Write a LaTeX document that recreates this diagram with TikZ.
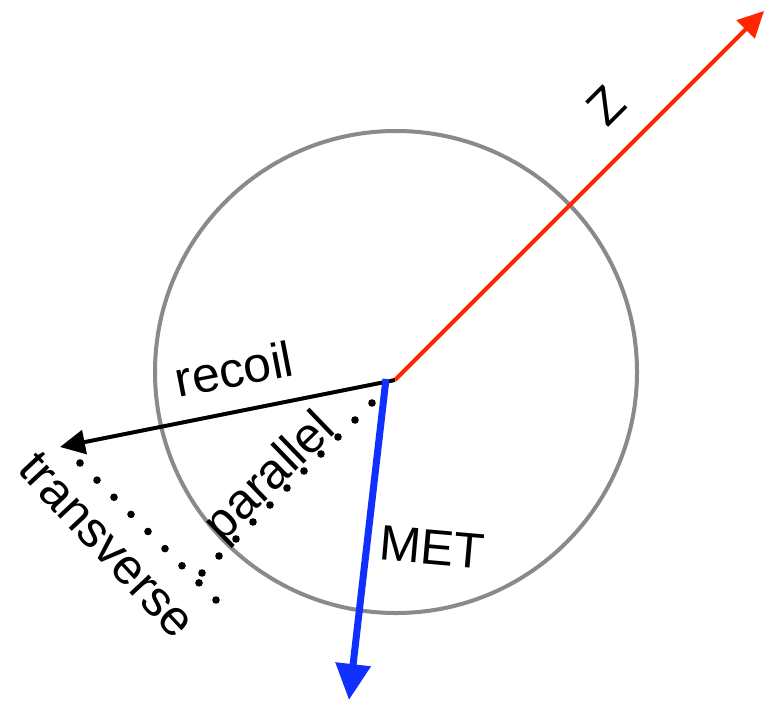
\documentclass[tikz,border=0pt]{standalone}
\usepackage{fontspec}
\setmainfont{Liberation Sans}
\usetikzlibrary{arrows.meta,calc}
\definecolor{ringgray}{RGB}{136,138,142}
\definecolor{zred}{RGB}{255,38,0}
\definecolor{metblue}{RGB}{16,48,255}
\tikzset{
  lbl/.style={font=\fontsize{50}{60}\selectfont, inner sep=0pt, text=black},
  ring/.style={draw=ringgray, line width=4bp},
  recoilarrow/.style={draw=black, line width=4bp, -{Triangle[length=25bp,width=24bp]}},
  zarrow/.style={draw=zred, line width=4bp, -{Triangle[length=26bp,width=25bp]}},
  metarrow/.style={draw=metblue, line width=7bp, -{Triangle[length=36bp,width=34bp]}},
  dotfill/.style={fill=black}
}
\begin{document}
\begin{tikzpicture}[x=1bp,y=-1bp]
\useasboundingbox (0,0) rectangle (769,701);
\fill[white] (0,0) rectangle (769,701);
% circle
\node[ring, circle, minimum size=482bp, inner sep=0pt] (ringc) at (396,372) {};
% origin points
\coordinate (o) at (395,380);
\coordinate (om) at (386,379);
\coordinate (ztip) at (764,11);
\coordinate (rtip) at (60,447);
\coordinate (mtip) at (349,700);
% dotted lines
\coordinate (pa) at (372,403);
\coordinate (pb) at (202,573);
\coordinate (ta) at (80,463);
\coordinate (tb) at (216,600);
\foreach \i in {0,...,10} \fill[dotfill] ($(pa)!\i/10!(pb)$) circle (3.8bp);
\foreach \i in {0,...,8} \fill[dotfill] ($(ta)!\i/8!(tb)$) circle (3.8bp);
% arrows
\draw[zarrow] (o) -- (ztip);
\draw[recoilarrow] (o) -- (rtip);
\draw[metarrow] (om) -- (mtip);
% labels
\node[lbl, rotate=11] (lrecoil) at (234,369) {recoil};
\node[lbl, rotate=44] (lpar) at (271,478) {parallel};
\node[lbl, rotate=-47] (ltrans) at (107,545) {transverse};
\node[lbl, rotate=45] (lz) at (606,106) {Z};
\node[lbl, rotate=-5] (lmet) at (432,547) {MET};
\end{tikzpicture}
\end{document}
